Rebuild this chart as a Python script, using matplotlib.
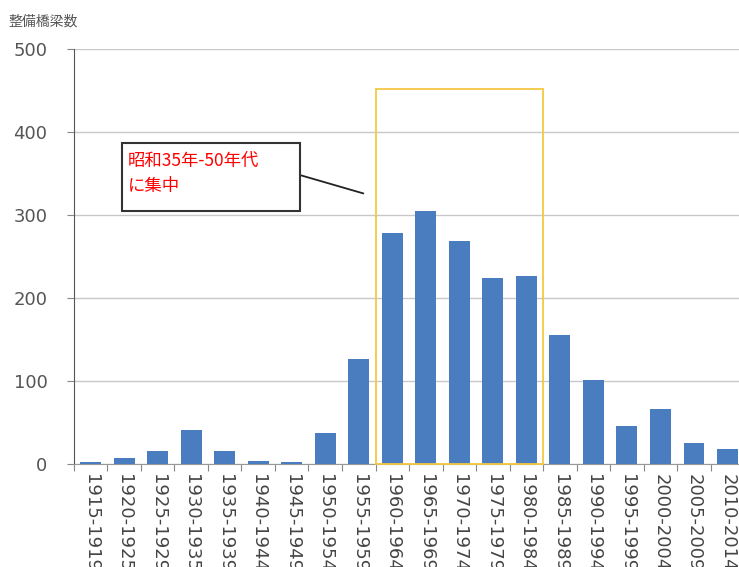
import matplotlib.pyplot as plt
import matplotlib.patches as mpatches

plt.rcParams['font.family'] = ['Noto Sans CJK JP', 'DejaVu Sans']

# 年代ごとの整備橋梁数
periods = ['1915-1919', '1920-1925', '1925-1929', '1930-1935', '1935-1939',
           '1940-1944', '1945-1949', '1950-1954', '1955-1959', '1960-1964',
           '1965-1969', '1970-1974', '1975-1979', '1980-1984', '1985-1989',
           '1990-1994', '1995-1999', '2000-2004', '2005-2009', '2010-2014']
counts = [2, 7, 16, 41, 16, 4, 2, 37, 126, 278,
          305, 269, 224, 226, 155, 101, 46, 66, 25, 18]
yticks = [0, 100, 200, 300, 400, 500]

# 強調する期間 (1960-1964 ～ 1980-1984)
hl_first, hl_last = 9, 13
hl_top = 452

fig = plt.figure(figsize=(7.39, 5.67), dpi=100)
ax = fig.add_axes([0.100, 0.1817, 0.907, 0.732])

x = list(range(len(periods)))
ax.bar(x, counts, width=0.62, color='#4a7dbf', zorder=3)

ax.set_xlim(-0.5, len(periods) - 0.5)
ax.set_ylim(0, 500)
ax.set_yticks(yticks)
ax.set_yticklabels([str(v) for v in yticks], fontsize=13, color='#555555',
                   family='DejaVu Sans')
ax.yaxis.grid(True, color='#c8c8c8', linewidth=1.0, zorder=0)

# 目盛りは区間の境界に置き、ラベルは区間の中央に置く
ax.set_xticks([i - 0.5 for i in range(len(periods) + 1)])
ax.set_xticklabels([])
ax.set_xticks(x, minor=True)
ax.set_xticklabels(periods, minor=True, rotation=-90, fontsize=13,
                   color='#444444', va='top', family='DejaVu Sans')
ax.tick_params(axis='x', which='minor', length=0, pad=7)
ax.tick_params(axis='x', which='major', length=5, color='#888888', direction='out')
ax.tick_params(axis='y', length=5, color='#888888', pad=14)

for s in ['top', 'right']:
    ax.spines[s].set_visible(False)
ax.spines['left'].set_color('#555555')
ax.spines['bottom'].set_color('#999999')

# 黄色の枠
rect = mpatches.Rectangle((hl_first - 0.5, 0), hl_last - hl_first + 1, hl_top,
                          fill=False, edgecolor='#f5c842', linewidth=1.3, zorder=4,
                          clip_on=False)
ax.add_patch(rect)

# 吹き出し
ax.plot([6.25, 8.13], [348, 326], color='#222222', linewidth=1.3, zorder=5)
box = mpatches.Rectangle((0.93, 305), 6.25 - 0.93, 387 - 305, facecolor='white',
                         edgecolor='#333333', linewidth=1.5, zorder=6)
ax.add_patch(box)
ax.text(1.12, 376, '昭和35年-50年代\nに集中', color='#ff0000', fontsize=12.5,
        va='top', ha='left', linespacing=1.5, zorder=7)

fig.text(0.012, 0.962, '整備橋梁数', fontsize=10, color='#555555', va='center')

fig.savefig('out.png', dpi=100)
